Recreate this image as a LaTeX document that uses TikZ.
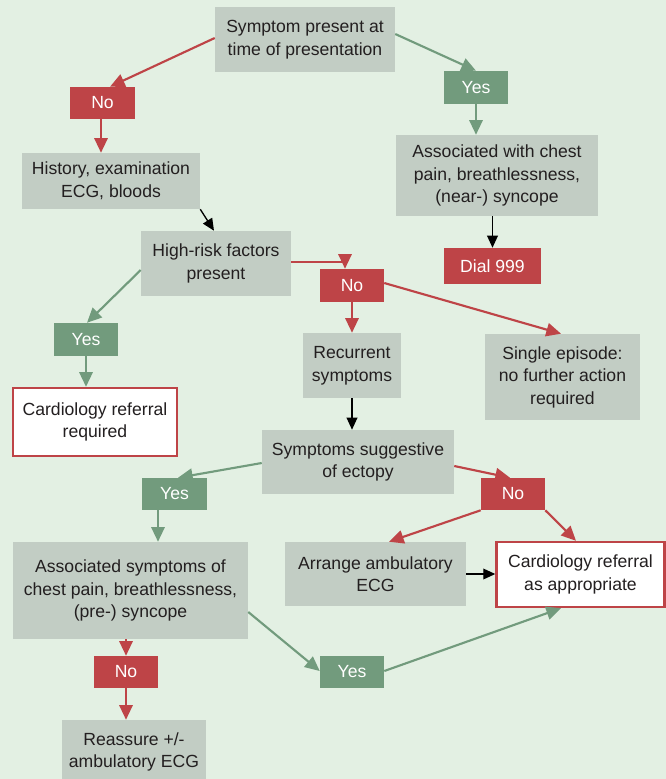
\documentclass[tikz,border=0pt]{standalone}
\usepackage{fontspec}
\setmainfont{Liberation Sans}
\usetikzlibrary{arrows.meta,calc}
\definecolor{bg}{HTML}{E3F0E3}
\definecolor{boxgray}{HTML}{C2CDC4}
\definecolor{redc}{HTML}{BE4447}
\definecolor{greenc}{HTML}{729B7D}
\definecolor{txt}{HTML}{231F20}
\begin{document}
\begin{tikzpicture}[x=0.75pt,y=-0.75pt,
  font=\fontsize{13.2pt}{16.9pt}\selectfont,
  sz/.style 2 args={minimum width=#1*0.75pt, minimum height=#2*0.75pt},
  box/.style={fill=boxgray, text=txt, align=center, inner sep=0pt},
  nolab/.style={fill=redc, text=white, align=center, inner sep=0pt},
  yeslab/.style={fill=greenc, text=white, align=center, inner sep=0pt},
  refbox/.style={fill=white, draw=redc, line width=1.8pt, text=txt, align=center, inner sep=0pt},
  ra/.style={draw=redc, line width=1.6pt, -{Triangle[length=11pt,width=10pt]}},
  ga/.style={draw=greenc, line width=1.6pt, -{Triangle[length=11pt,width=10pt]}},
  ka/.style={draw=black, line width=1pt, -{Triangle[length=9pt,width=8pt]}}]
\fill[bg] (0,0) rectangle (666,779);
\useasboundingbox (0,0) rectangle (666,779);

\node[box, sz={180}{65}] (sym) at (305,39.5) {Symptom present at\\time of presentation};
\node[nolab, sz={65}{32}] (no1) at (102.5,103) {No};
\node[yeslab, sz={64}{33}] (yes1) at (476,87.5) {Yes};
\node[box, sz={178}{56}] (hist) at (111,181) {History, examination\\ECG, bloods};
\node[box, sz={202}{81}] (assoc) at (497,175.5) {Associated with chest\\pain, breathlessness,\\(near-) syncope};
\node[box, sz={150}{65}] (high) at (216,263.5) {High-risk factors\\present};
\node[nolab, sz={97}{36}] (dial) at (492.5,266) {Dial 999};
\node[nolab, sz={64}{33}] (no2) at (352,285.5) {No};
\node[yeslab, sz={64}{33}] (yes2) at (86,339.5) {Yes};
\node[box, sz={98}{65}] (rec) at (352,365.5) {Recurrent\\symptoms};
\node[box, sz={155}{86}] (single) at (562.5,377) {Single episode:\\no further action\\required};
\node[refbox, sz={164}{68}] (card1) at (95,422) {Cardiology referral\\required};
\node[box, sz={192}{64}] (sugg) at (358,462) {Symptoms suggestive\\of ectopy};
\node[yeslab, sz={65}{32}] (yes3) at (174.5,494) {Yes};
\node[nolab, sz={64}{32}] (no3) at (513,494) {No};
\node[box, sz={235}{97}] (asym) at (130.5,590.5) {Associated symptoms of\\chest pain, breathlessness,\\(pre-) syncope};
\node[box, sz={181}{64}] (arr) at (375.5,574) {Arrange ambulatory\\ECG};
\node[refbox, sz={168}{65}] (card2) at (580.5,574.5) {Cardiology referral\\as appropriate};
\node[nolab, sz={64}{32}] (no4) at (126,672) {No};
\node[yeslab, sz={64}{32}] (yes4) at (352,672) {Yes};
\node[box, sz={144}{64}] (reas) at (134,752) {Reassure +/-\\ambulatory ECG};

\coordinate (c1) at ($(no1.south)+(-1.5,0)$);
\coordinate (c2) at ($(yes3.south)+(-16.5,0)$);

% connectors
\draw[ra] ($(sym.west)+(0,-1.5)$) -- ($(no1.north)+(7.5,0)$);
\draw[ga] ($(sym.east)+(0,-5.5)$) -- (yes1.north);
\draw[ra] (c1) -- (c1 |- hist.north);
\draw[ga] (yes1.south) -- (yes1.south |- assoc.north);
\draw[ka] (hist.south east) -- ($(high.north)+(-2,0)$);
\draw[ka] (dial.north |- assoc.south) -- (dial.north);
\draw[ra] ($(high.east)+(0,-1.5)$) -| ($(no2.north)+(-7,0)$);
\draw[ga] ($(high.west)+(0,6.5)$) -- ($(yes2.north)+(1,0)$);
\draw[ra] (no2.south) -- (rec.north);
\draw[ra] ($(no2.east)+(0,-2.5)$) -- ($(single.north)+(-1.5,0)$);
\draw[ga] (yes2.south) -- (yes2.south |- card1.north);
\draw[ka] (rec.south) -- (rec.south |- sugg.north);
\draw[ga] ($(sugg.west)+(0,1)$) -- ($(yes3.north)+(3.5,0)$);
\draw[ra] ($(sugg.east)+(0,4)$) -- ($(no3.north)+(-3,0)$);
\draw[ga] (c2) -- (c2 |- asym.north);
\draw[ra] (no3.south west) -- ($(arr.north)+(13.5,0)$);
\draw[ra] (no3.south east) -- ($(card2.north)+(-4.5,0)$);
\draw[ka] (arr.east) -- (arr.east -| card2.west);
\draw[ra] (no4.north |- asym.south) -- (no4.north);
\draw[ga] ($(asym.east)+(0,21.5)$) -- ($(yes4.west)+(0,-1)$);
\draw[ga] ($(yes4.east)+(0,-1)$) -- ($(card2.south)+(-19.5,0)$);
\draw[ra] (no4.south) -- (no4.south |- reas.north);
\end{tikzpicture}
\end{document}
